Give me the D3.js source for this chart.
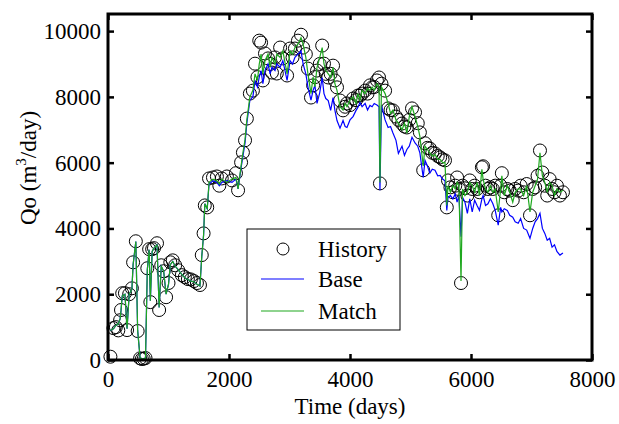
<!DOCTYPE html>
<html>
<head>
<meta charset="utf-8">
<script src="https://cdn.jsdelivr.net/npm/d3@7"></script>
<style>
  body { margin: 0; background: #fff; }
  svg { display: block; font-family: "Liberation Serif", "Times New Roman", serif; }
</style>
</head>
<body>
<svg id="chart" width="619" height="424"></svg>
<script>
// time grid (days) shared by the three series
const days = [
  40, 90, 130, 170, 200, 215, 235, 280, 315, 350, 395, 415, 460, 490, 530, 560, 590, 620,
  650, 680, 700, 730, 760, 810, 845, 880, 920, 960, 1000, 1030, 1070, 1110, 1160, 1220,
  1270, 1320, 1370, 1420, 1470, 1520, 1550, 1580, 1600, 1640, 1670, 1735, 1800, 1840, 1880,
  1965, 2050, 2115, 2150, 2200, 2230, 2265, 2295, 2345, 2395, 2430, 2470, 2500, 2530, 2560,
  2595, 2645, 2680, 2710, 2760, 2790, 2845, 2890, 2960, 3010, 3050, 3090, 3140, 3190, 3225,
  3270, 3305, 3355, 3390, 3420, 3455, 3500, 3540, 3570, 3600, 3640, 3680, 3720, 3750, 3785,
  3835, 3885, 3920, 3950, 4000, 4050, 4100, 4130, 4165, 4200, 4250, 4290, 4330, 4365, 4400,
  4445, 4480, 4495, 4520, 4580, 4630, 4670, 4710, 4760, 4800, 4860, 4900, 4940, 4980, 5025,
  5075, 5120, 5155, 5210, 5240, 5280, 5320, 5360, 5405, 5450, 5490, 5530, 5570, 5600, 5620,
  5660, 5700, 5740, 5770, 5800, 5835, 5860, 5900, 5940, 5980, 6020, 6060, 6100, 6140, 6180,
  6200, 6240, 6280, 6320, 6360, 6400, 6450, 6490, 6510, 6550, 6600, 6640, 6690, 6730, 6780,
  6820, 6870, 6920, 6975, 7020, 7060, 7100, 7140, 7180, 7220, 7260, 7300, 7340, 7380, 7420,
  7470, 7520
];

const history = [
  100, 970, 1000, 900, 1210, 1520, 2030, 2030, 910, 2000, 2180, 2970, 3610, 880, 50, 30, 40, 60,
  2790, 3370, 1760, 3370, 3400, 3550, 1520, 2880, 2700, 1910, 2340, 2970, 3030, 2880, 2730, 2580,
  2520, 2460, 2450, 2400, 2340, 2280, 3190, 3850, 4700, 4640, 5520, 5550, 5580, 5300, 5520,
  5580, 5460, 5680, 5160, 6010, 6310, 6680, 7340, 8100, 8190, 9010, 8600, 9710, 9650, 8500,
  9320, 9170, 9000, 8740, 9200, 8710, 9500, 9170, 8650, 9470, 9200, 9470, 9710, 9890, 9500,
  9300, 8860, 7980, 8350, 8600, 8800, 9000, 9560, 9010, 8700, 8590, 8700, 8950, 8500, 8290,
  7890, 7590, 7700, 7800, 7750, 7950, 7900, 8040, 8040, 8100, 8190, 8100, 8350, 8290, 8300,
  8500, 8590, 5370, 8400, 8190, 7650, 7600, 7590, 7400, 7300, 7190, 7100, 7070, 7300, 7650,
  7530, 7200, 6920, 5770, 6590, 6450, 6430, 6300, 6280, 6200, 6160, 6100, 6070, 4640, 5460,
  5250, 5100, 5300, 5550, 5200, 2340, 5300, 5220, 5000, 5460, 5200, 5300, 5200, 5100, 5860,
  5890, 5300, 5200, 5250, 5200, 5300, 4400, 5300, 5680, 5100, 5200, 5150, 4860, 5200, 5150,
  5300, 5100, 5350, 4400, 5200, 5250, 5600, 6370, 5700, 5300, 5000, 5500, 5200, 5100, 5300,
  5000, 5100
];

const base = [
  900, 950, 1050, 1100, 1250, 1500, 1950, 2000, 950, 2000, 2150, 2900, 3600, 900, 80, 30, 40, 60,
  2750, 3350, 1800, 3300, 3400, 3500, 1600, 2850, 2700, 2000, 2300, 2900, 3000, 2850, 2750, 2600,
  2500, 2450, 2400, 2380, 2300, 2250, 3150, 3800, 4750, 4600, 5350, 5450, 5400, 5300, 5400,
  5450, 5400, 5500, 5200, 5850, 6200, 6600, 7200, 7900, 8000, 8500, 8300, 8600, 8800, 8400,
  8800, 9000, 8700, 8900, 8800, 9000, 8900, 9100, 8500, 9100, 9000, 9200, 9300, 9400, 9000,
  8700, 8300, 7900, 8200, 8350, 7800, 8130, 8590, 8100, 7950, 7890, 7590, 7980, 7600, 7280,
  7050, 7280, 7100, 7070, 7300, 7400, 7590, 7680, 7830, 7700, 7800, 7600, 7740, 7700, 7800,
  7750, 7700, 5160, 7740, 7300, 7070, 7100, 6900, 6680, 6280, 6500, 6220, 6400, 6500, 6770,
  6600, 6500, 6300, 5550, 6070, 5900, 5680, 5800, 5770, 5600, 5610, 5500, 5450, 4550, 4950,
  5000, 4900, 5050, 4800, 5000, 3750, 4950, 4800, 4460, 4900, 4500, 4860, 4700, 4550, 4900,
  5000, 4700, 4750, 4900, 4760, 4550, 4100, 4640, 4500, 4600, 4550, 4400, 4340, 4200, 4160,
  4300, 4000, 3950, 3700, 4000, 4200, 4300, 4460, 4000, 3850, 3640, 3700, 3430, 3500, 3300,
  3190, 3250
];

const match = [
  900, 950, 1050, 1100, 1250, 1500, 1950, 2000, 950, 2000, 2150, 2900, 3600, 900, 80, 30, 40, 60,
  2750, 3350, 1800, 3300, 3400, 3500, 1600, 2850, 2700, 2000, 2300, 2900, 3000, 2850, 2750, 2600,
  2500, 2450, 2400, 2380, 2300, 2250, 3150, 3800, 4750, 4600, 5400, 5500, 5450, 5350, 5500,
  5400, 5500, 5550, 5200, 5900, 6300, 6700, 7300, 8000, 8200, 8700, 8500, 9000, 9300, 8700,
  9100, 9300, 8900, 9200, 9000, 9300, 9200, 9400, 8700, 9400, 9300, 9500, 9600, 9800, 9600,
  9200, 8700, 8100, 8600, 8300, 8900, 9200, 9500, 9000, 8800, 8700, 8600, 8900, 8400, 8200,
  7700, 7600, 7800, 7700, 7900, 8000, 7800, 8100, 7900, 8200, 8100, 8250, 8200, 8300, 8200,
  8400, 8300, 5400, 8300, 8100, 7800, 7500, 7600, 7300, 7200, 7000, 7200, 6900, 7400, 7700,
  7400, 7100, 6800, 5900, 6500, 6400, 6300, 6200, 6250, 6100, 6100, 6000, 6000, 4700, 5300,
  5100, 5300, 5200, 5400, 5300, 2400, 5200, 5000, 5100, 5400, 5300, 5100, 5400, 5000, 5800,
  5500, 5200, 5100, 5300, 5100, 5200, 4500, 5200, 5600, 5000, 5300, 5100, 4800, 5100, 5200,
  5200, 5000, 5300, 4500, 5100, 5300, 5500, 6300, 5600, 5400, 5100, 5400, 5300, 5000, 5200,
  5100, 5160
];

const xTicks = [0, 2000, 4000, 6000, 8000];
const yTicks = [0, 2000, 4000, 6000, 8000, 10000];
const legendLabels = ["History", "Base", "Match"];

const svg = d3.select("#chart");
const margin = { top: 14, right: 27, bottom: 64, left: 108 };
const width = 619, height = 424;
const x0 = margin.left, x1 = width - margin.right;
const y0 = height - margin.bottom, y1 = margin.top;

const x = d3.scaleLinear().domain([0, 8000]).range([x0, x1]);
const y = d3.scaleLinear().domain([0, 10520]).range([y0, y1]);

const blue = "#0000ff";
const green = "#1fa81f";
const fontSize = 23;

// markers for history
svg.append("g")
  .selectAll("circle")
  .data(days.map((d, i) => [d, history[i]]))
  .join("circle")
  .attr("cx", d => x(d[0]))
  .attr("cy", d => y(d[1]))
  .attr("r", 6.5)
  .attr("fill", "none")
  .attr("stroke", "#000")
  .attr("stroke-width", 1);

const line = d3.line().x(d => x(d[0])).y(d => y(d[1]));

svg.append("path")
  .datum(days.map((d, i) => [d, base[i]]))
  .attr("d", line)
  .attr("fill", "none")
  .attr("stroke", blue)
  .attr("stroke-width", 1.2);

svg.append("path")
  .datum(days.map((d, i) => [d, match[i]]))
  .attr("d", line)
  .attr("fill", "none")
  .attr("stroke", green)
  .attr("stroke-width", 1.2);

// axes, ticks pointing inward on all four sides
function styleAxis(g) {
  g.select(".domain").remove();
  g.selectAll(".tick line").attr("stroke", "#000").attr("stroke-width", 2.5);
  g.selectAll(".tick text").attr("fill", "#000").style("font-size", fontSize + "px")
    .style("font-family", "'Liberation Serif', 'Times New Roman', serif");
}

svg.append("g")
  .attr("transform", `translate(0,${y0})`)
  .call(d3.axisBottom(x).tickValues(xTicks).tickFormat(d3.format("d")).tickSizeInner(-6).tickSizeOuter(0).tickPadding(11))
  .call(styleAxis);

svg.append("g")
  .attr("transform", `translate(0,${y1})`)
  .call(d3.axisTop(x).tickValues(xTicks).tickFormat("").tickSizeInner(-6).tickSizeOuter(0))
  .call(styleAxis);

svg.append("g")
  .attr("transform", `translate(${x0},0)`)
  .call(d3.axisLeft(y).tickValues(yTicks).tickFormat(d3.format("d")).tickSizeInner(-6).tickSizeOuter(0).tickPadding(7))
  .call(styleAxis);

svg.append("g")
  .attr("transform", `translate(${x1},0)`)
  .call(d3.axisRight(y).tickValues(yTicks).tickFormat("").tickSizeInner(-6).tickSizeOuter(0))
  .call(styleAxis);

// frame
svg.append("rect")
  .attr("x", x0).attr("y", y1)
  .attr("width", x1 - x0).attr("height", y0 - y1)
  .attr("fill", "none")
  .attr("stroke", "#000")
  .attr("stroke-width", 3);

// axis titles
svg.append("text")
  .attr("x", (x0 + x1) / 2)
  .attr("y", 414)
  .attr("text-anchor", "middle")
  .style("font-size", fontSize + "px")
  .text("Time (days)");

const yTitle = svg.append("text")
  .attr("transform", "translate(36,168) rotate(-90)")
  .attr("text-anchor", "middle")
  .style("font-size", fontSize + "px");
yTitle.append("tspan").text("Qo (m");
yTitle.append("tspan").attr("dy", -10).style("font-size", "15px").text("3");
yTitle.append("tspan").attr("dy", 10).text("/day)");

// legend
const lg = svg.append("g").attr("transform", "translate(247,229)");
lg.append("rect")
  .attr("width", 153).attr("height", 101)
  .attr("fill", "#fff").attr("stroke", "#000").attr("stroke-width", 1);

const rowY = [20, 50, 82];
lg.append("circle").attr("cx", 36).attr("cy", rowY[0]).attr("r", 6)
  .attr("fill", "none").attr("stroke", "#000");
lg.append("line").attr("x1", 14).attr("x2", 57).attr("y1", rowY[1]).attr("y2", rowY[1])
  .attr("stroke", blue).attr("stroke-width", 1.2);
lg.append("line").attr("x1", 14).attr("x2", 57).attr("y1", rowY[2]).attr("y2", rowY[2])
  .attr("stroke", green).attr("stroke-width", 1.2);

lg.selectAll("text.lab")
  .data(legendLabels)
  .join("text")
  .attr("class", "lab")
  .attr("x", 71)
  .attr("y", (d, i) => rowY[i] + 8)
  .style("font-size", fontSize + "px")
  .text(d => d);
</script>
</body>
</html>
